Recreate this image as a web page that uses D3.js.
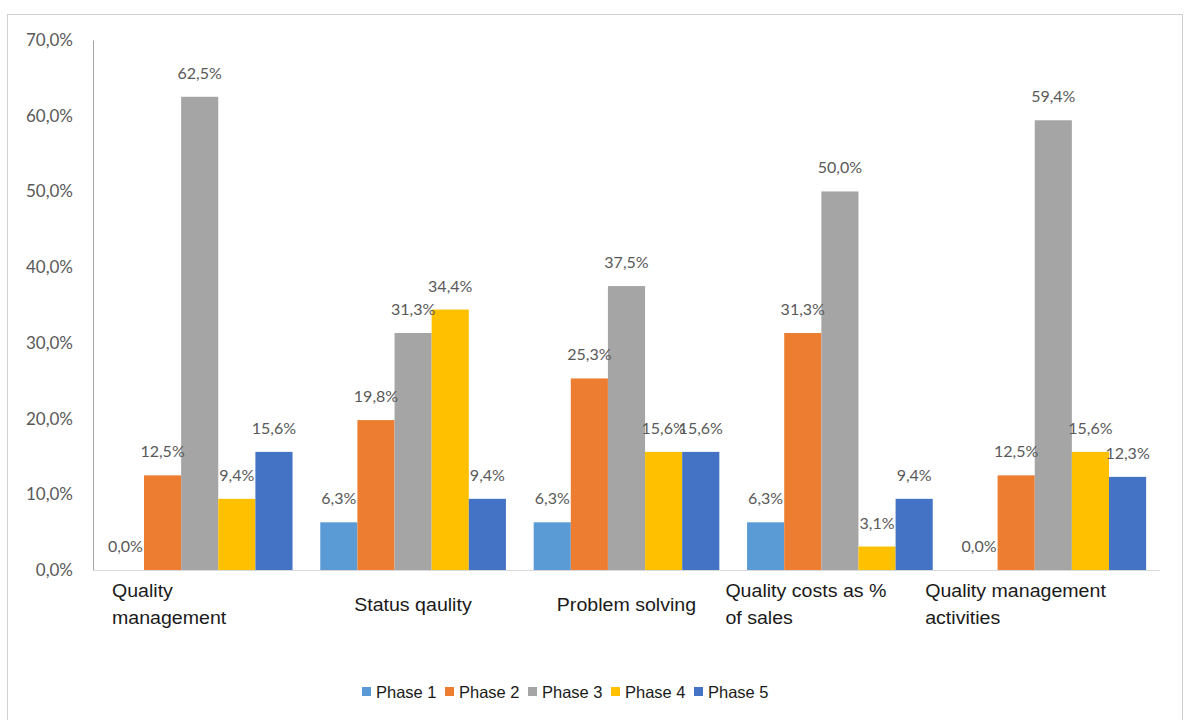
<!DOCTYPE html>
<html>
<head>
<meta charset="utf-8">
<script src="https://cdn.jsdelivr.net/npm/d3@7"></script>
<style>
  body { margin: 0; background: #fff; }
  svg { display: block; }
</style>
</head>
<body>
<svg id="chart"></svg>
<script>
// data
var categories = [
	["Quality", "management"],
	["Status qaulity"],
	["Problem solving"],
	["Quality costs as %", "of sales"],
	["Quality management", "activities"]
];
var phases = ["Phase 1", "Phase 2", "Phase 3", "Phase 4", "Phase 5"];
var phase1 = [0.0, 6.3, 6.3, 6.3, 0.0];
var phase2 = [12.5, 19.8, 25.3, 31.3, 12.5];
var phase3 = [62.5, 31.3, 37.5, 50.0, 59.4];
var phase4 = [9.4, 34.4, 15.6, 3.1, 15.6];
var phase5 = [15.6, 9.4, 15.6, 9.4, 12.3];
var yTicks = [0, 10, 20, 30, 40, 50, 60, 70];

var colors = ["#5B9BD5", "#ED7D31", "#A5A5A5", "#FFC000", "#4472C4"];
var series = [phase1, phase2, phase3, phase4, phase5];

var W = 1184, H = 720;
var margin = { top: 40, right: 24, bottom: 150, left: 93 };
var width = W - margin.left - margin.right,
	height = H - margin.top - margin.bottom;

var locale = d3.formatLocale({ decimal: ",", thousands: ".", grouping: [3], currency: ["", ""] });
var fmt = locale.format(".1f");
var pct = function(v) { return fmt(v) + "%"; };

var numFont = "Lato, 'Open Sans', sans-serif";
var txtFont = "'Liberation Sans', Arial, sans-serif";

var svg = d3.select("#chart").attr("width", W).attr("height", H);

// outer frame
svg.append("rect")
	.attr("x", 7.5).attr("y", 14.5)
	.attr("width", 1175).attr("height", 720)
	.attr("fill", "none")
	.attr("stroke", "#d0d0d0");

var g = svg.append("g")
	.attr("transform", "translate(" + margin.left + "," + margin.top + ")");

var x0 = d3.scaleBand()
	.domain(d3.range(categories.length))
	.range([0, width])
	.paddingInner(0.13)
	.paddingOuter(0.065);

var x1 = d3.scaleBand()
	.domain(d3.range(phases.length))
	.range([0, x0.bandwidth()]);

var y = d3.scaleLinear()
	.domain([0, 70])
	.range([height, 0]);

/* y axis */
var yAxis = d3.axisLeft(y)
	.tickValues(yTicks)
	.tickSize(0)
	.tickPadding(20)
	.tickFormat(pct);

var yG = g.append("g").call(yAxis);
yG.select(".domain").attr("stroke", "#a6a6a6");
yG.selectAll("text")
	.attr("fill", "#595959")
	.style("font-family", numFont)
	.style("font-size", "17px");

/* x baseline */
g.append("line")
	.attr("x1", 0).attr("x2", width)
	.attr("y1", y(0) + 0.5).attr("y2", y(0) + 0.5)
	.attr("stroke", "#d9d9d9");

/* bars */
var groups = g.selectAll(".grp")
	.data(categories)
	.enter().append("g")
	.attr("class", "grp")
	.attr("transform", function(d, i) { return "translate(" + x0(i) + ",0)"; });

var cells = function(d, i) {
	return series.map(function(s, k) { return { k: k, v: s[i] }; });
};

groups.selectAll(".bar")
	.data(cells)
	.enter().append("rect")
	.attr("class", "bar")
	.attr("x", function(d) { return x1(d.k); })
	.attr("y", function(d) { return y(d.v); })
	.attr("width", x1.bandwidth())
	.attr("height", function(d) { return y(0) - y(d.v); })
	.attr("fill", function(d) { return colors[d.k]; });

groups.selectAll(".lbl")
	.data(cells)
	.enter().append("text")
	.attr("class", "lbl")
	.attr("x", function(d) { return x1(d.k) + x1.bandwidth() / 2; })
	.attr("y", function(d) { return y(d.v) - 18; })
	.attr("text-anchor", "middle")
	.attr("fill", "#595959")
	.style("font-family", numFont)
	.style("font-size", "16px")
	.text(function(d) { return pct(d.v); });

/* category labels, left aligned block centred under group (slightly wide like the source) */
var catG = g.selectAll(".cat")
	.data(categories)
	.enter().append("text")
	.attr("class", "cat")
	.attr("fill", "#1a1a1a")
	.style("font-family", txtFont)
	.style("font-size", "17.5px");

catG.each(function(lines, i) {
	var t = d3.select(this);
	var lh = 27;
	var y0 = height + 41 - (lines.length - 1) * lh / 2;
	lines.forEach(function(line, j) {
		t.append("tspan").attr("y", y0 + j * lh).text(line);
	});
	var bw = this.getBBox().width;
	var cx = x0(i) + x0.bandwidth() / 2;
	t.selectAll("tspan").attr("x", -bw / 2);
	t.attr("transform", "translate(" + cx + ",0) scale(1.12,1)");
});

/* legend */
var legend = svg.append("g").attr("transform", "translate(362,698)");
var item = legend.selectAll(".leg")
	.data(phases)
	.enter().append("g")
	.attr("class", "leg")
	.attr("transform", function(d, i) { return "translate(" + (i * 83) + ",0)"; });

item.append("rect")
	.attr("x", 0).attr("y", -11)
	.attr("width", 9).attr("height", 9)
	.attr("fill", function(d, i) { return colors[i]; });

item.append("text")
	.attr("x", 14).attr("y", 0)
	.attr("fill", "#1a1a1a")
	.style("font-family", txtFont)
	.style("font-size", "16.5px")
	.text(function(d) { return d; });
</script>
</body>
</html>
